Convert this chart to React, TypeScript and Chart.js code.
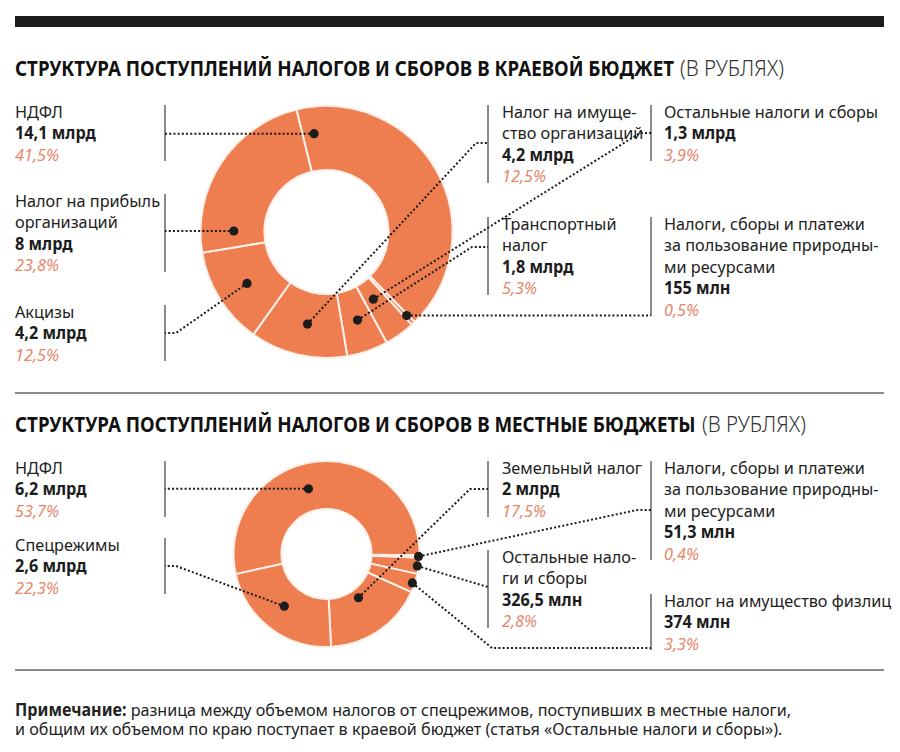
import React, { useEffect, useRef } from "react";
import { Chart, registerables } from "chart.js";
Chart.register(...registerables);

const FAMILY = '"Noto Sans", "Open Sans", sans-serif';
const ORANGE = "#EE7D50";
const SEAM = "#FDEFE7";
const PCT_COLOR = "#E8866A";
const INK = "#1C1C1C";
const RULE = "#8C8C8C";

// ---------- Regional budget (clockwise from НДФЛ) ----------
const regionCategories = [
  "НДФЛ",
  "Налоги, сборы и платежи за пользование природными ресурсами",
  "Остальные налоги и сборы",
  "Транспортный налог",
  "Налог на имущество организаций",
  "Акцизы",
  "Налог на прибыль организаций",
];
const regionShares = [41.5, 0.5, 3.9, 5.3, 12.5, 12.5, 23.8];
const regionAmounts = ["14,1 млрд", "155 млн", "1,3 млрд", "1,8 млрд", "4,2 млрд", "4,2 млрд", "8 млрд"];
const regionPercentLabels = ["41,5%", "0,5%", "3,9%", "5,3%", "12,5%", "12,5%", "23,8%"];

// ---------- Local budgets (clockwise from НДФЛ) ----------
const localCategories = [
  "НДФЛ",
  "Налоги, сборы и платежи за пользование природными ресурсами",
  "Остальные налоги и сборы",
  "Налог на имущество физлиц",
  "Земельный налог",
  "Спецрежимы",
];
const localShares = [53.7, 0.4, 2.8, 3.3, 17.5, 22.3];
const localAmounts = ["6,2 млрд", "51,3 млн", "326,5 млн", "374 млн", "2 млрд", "2,6 млрд"];
const localPercentLabels = ["53,7%", "0,4%", "2,8%", "3,3%", "17,5%", "22,3%"];

const TITLE_REGION = "СТРУКТУРА ПОСТУПЛЕНИЙ НАЛОГОВ И СБОРОВ В КРАЕВОЙ БЮДЖЕТ";
const TITLE_LOCAL = "СТРУКТУРА ПОСТУПЛЕНИЙ НАЛОГОВ И СБОРОВ В МЕСТНЫЕ БЮДЖЕТЫ";
const TITLE_UNIT = "(В РУБЛЯХ)";
const NOTE_HEAD = "Примечание:";
const NOTE_LINE1 = " разница между объемом налогов от спецрежимов, поступивших в местные налоги,";
const NOTE_LINE2 = "и общим их объемом по краю поступает в краевой бюджет (статья «Остальные налоги и сборы»).";

// ---------- layout (positions only) ----------
type Lbl = {
  i: number;
  x: number;
  b1: number;
  lines: string[];
  bar: number;
  t: number;
  r: number;
  route: number[][] | null;
};

const regionLayout: Lbl[] = [
  { i: 0, x: 15, b1: 118, lines: ["НДФЛ"], bar: 165, t: 0.044, r: 0.58, route: null },
  { i: 6, x: 15, b1: 207, lines: ["Налог на прибыль", "организаций"], bar: 165, t: 0.118, r: 0.48, route: null },
  { i: 5, x: 15, b1: 318, lines: ["Акцизы"], bar: 165, t: 0.48, r: 0.51, route: [[176, 333], [165, 333]] },
  { i: 4, x: 502, b1: 118, lines: ["Налог на имуще-", "ство организаций"], bar: 488, t: 0.47, r: 0.5, route: [[476, 143], [488, 143]] },
  { i: 3, x: 502, b1: 230, lines: ["Транспортный", "налог"], bar: 488, t: 0.48, r: 0.49, route: [[472, 247], [488, 247]] },
  { i: 2, x: 664, b1: 118, lines: ["Остальные налоги и сборы"], bar: 651, t: 0.55, r: 0.31, route: [[640, 133], [651, 133]] },
  { i: 1, x: 664, b1: 230, lines: ["Налоги, сборы и платежи", "за пользование природны-", "ми ресурсами"], bar: 651, t: 0.33, r: 0.84, route: null },
];

const localLayout: Lbl[] = [
  { i: 0, x: 15, b1: 474, lines: ["НДФЛ"], bar: 165, t: 0.45, r: 0.47, route: null },
  { i: 5, x: 15, b1: 551, lines: ["Спецрежимы"], bar: 165, t: 0.52, r: 0.46, route: [[176, 566], [165, 566]] },
  { i: 4, x: 502, b1: 474, lines: ["Земельный налог"], bar: 488, t: 0.47, r: 0.19, route: [[470, 489], [488, 489]] },
  { i: 2, x: 502, b1: 563, lines: ["Остальные нало-", "ги и сборы"], bar: 488, t: 0.52, r: 0.97, route: [[488, 587]] },
  { i: 1, x: 664, b1: 474, lines: ["Налоги, сборы и платежи", "за пользование природны-", "ми ресурсами"], bar: 651, t: 0.5, r: 0.98, route: [[637, 510], [651, 510]] },
  { i: 3, x: 664, b1: 607, lines: ["Налог на имущество физлиц"], bar: 651, t: 0.53, r: 0.95, route: [[492, 648], [651, 648]] },
];

const LABEL_FS = 17;
const LABEL_LH = 21.5;
const LABEL_SCALE = 0.955;

function measure(text: string, font: string): number {
  const c = document.createElement("canvas").getContext("2d")!;
  c.font = font;
  return c.measureText(text).width;
}

// baseline offset inside a line box for Noto Sans (ascent 1.069, descent 0.293)
function baseOff(fs: number, lh: number) {
  return lh / 2 + ((1.069 - 0.293) / 2) * fs;
}

function Donut(props: {
  top: number;
  height: number;
  cx: number;
  cy: number;
  radius: number;
  cutout: number;
  rotation: number;
  categories: string[];
  shares: number[];
  layout: Lbl[];
}) {
  const ref = useRef<HTMLCanvasElement>(null);
  useEffect(() => {
    const { top, height, cx, cy, radius, cutout, rotation, categories, shares, layout } = props;
    const W = 900;
    const lcy = cy - top;
    const padding = {
      left: cx - radius - 10,
      right: W - (cx + radius + 10),
      top: lcy - radius - 5,
      bottom: height - (lcy + radius + 5),
    };
    const leaders = {
      id: "leaders",
      afterDatasetsDraw(chart: any) {
        const ctx = chart.ctx as CanvasRenderingContext2D;
        const meta = chart.getDatasetMeta(0);
        const dots: number[][] = [];
        layout.forEach((l) => {
          const arc = meta.data[l.i];
          const p = arc.getProps(["x", "y", "startAngle", "endAngle", "innerRadius", "outerRadius"], true);
          const a = p.startAngle + l.t * (p.endAngle - p.startAngle);
          const r = p.innerRadius + l.r * (p.outerRadius - p.innerRadius);
          const dx = p.x + r * Math.cos(a);
          const dy = p.y + r * Math.sin(a);
          dots.push([dx, dy]);
          const pts = l.route === null ? [[l.bar, dy]] : l.route.map(([x, y]) => [x, y - top]);
          ctx.save();
          ctx.strokeStyle = INK;
          ctx.lineWidth = 2;
          ctx.setLineDash([2, 2.2]);
          ctx.beginPath();
          ctx.moveTo(dx, dy);
          pts.forEach(([x, y]) => ctx.lineTo(x, y));
          ctx.stroke();
          ctx.restore();
        });
        ctx.save();
        ctx.fillStyle = INK;
        dots.forEach(([x, y]) => {
          ctx.beginPath();
          ctx.arc(x, y, 4.6, 0, Math.PI * 2);
          ctx.fill();
        });
        ctx.restore();
      },
    };
    const chart = new Chart(ref.current!, {
      type: "doughnut",
      data: {
        labels: categories,
        datasets: [
          {
            data: shares,
            backgroundColor: ORANGE,
            borderColor: SEAM,
            borderWidth: 2,
            hoverOffset: 0,
            radius,
            cutout,
            rotation,
          } as any,
        ],
      },
      options: {
        animation: false,
        responsive: false,
        maintainAspectRatio: false,
        events: [],
        radius,
        cutout,
        rotation,
        layout: { padding },
        plugins: { legend: { display: false }, tooltip: { enabled: false } },
      } as any,
      plugins: [leaders],
    });
    return () => chart.destroy();
  }, []);
  return (
    <canvas
      ref={ref}
      width={900}
      height={props.height}
      style={{ position: "absolute", left: 0, top: props.top, width: 900, height: props.height }}
    />
  );
}

function LabelBlock({ l, amount, pct }: { l: Lbl; amount: string; pct: string }) {
  const n = l.lines.length + 2;
  const topY = l.b1 - baseOff(LABEL_FS, LABEL_LH);
  const barTop = l.b1 - 13;
  const barBottom = l.b1 + (n - 1) * LABEL_LH;
  return (
    <>
      <div
        style={{
          position: "absolute",
          left: l.bar - 0.75,
          top: barTop,
          width: 1.5,
          height: barBottom - barTop,
          background: "#8A8A8A",
        }}
      />
      <div
        style={{
          position: "absolute",
          left: l.x,
          top: topY,
          fontFamily: FAMILY,
          fontSize: LABEL_FS,
          lineHeight: LABEL_LH + "px",
          color: "#222",
          whiteSpace: "nowrap",
          transform: `scaleX(${LABEL_SCALE})`,
          transformOrigin: "0 0",
        }}
      >
        {l.lines.map((s, k) => (
          <div key={k}>{s}</div>
        ))}
        <div style={{ fontWeight: 700, color: INK }}>{amount}</div>
        <div style={{ fontStyle: "italic", color: PCT_COLOR }}>{pct}</div>
      </div>
    </>
  );
}

function Title({ baseline, bold, scale, unitScale }: { baseline: number; bold: string; scale: number; unitScale: number }) {
  const fs = 21;
  const boldW = measure(bold, `bold ${fs}px ${FAMILY}`) * scale;
  const top = baseline - baseOff(fs, fs);
  const common: React.CSSProperties = {
    position: "absolute",
    top,
    fontFamily: FAMILY,
    fontSize: fs,
    lineHeight: fs + "px",
    whiteSpace: "nowrap",
    transformOrigin: "0 0",
  };
  return (
    <>
      <div style={{ ...common, left: 15, fontWeight: 700, color: "#111", transform: `scaleX(${scale})` }}>{bold}</div>
      <div style={{ ...common, left: 15 + boldW + 6, fontWeight: 300, color: "#333", transform: `scaleX(${unitScale})` }}>
        {TITLE_UNIT}
      </div>
    </>
  );
}

export default function App() {
  const titleScale = 659 / measure(TITLE_REGION, `bold 21px ${FAMILY}`);
  const unitScale = 104 / measure(TITLE_UNIT, `300 21px ${FAMILY}`);
  const noteFs = 17;
  const noteW =
    measure(NOTE_HEAD, `bold ${noteFs}px ${FAMILY}`) + measure(NOTE_LINE1, `${noteFs}px ${FAMILY}`);
  const noteScale = 776 / noteW;
  const noteLH = 18.3;
  const noteTop = 717 - baseOff(noteFs, noteLH);

  return (
    <div
      style={{
        position: "absolute",
        left: 0,
        top: 0,
        width: 900,
        height: 752,
        background: "#fff",
        overflow: "hidden",
        fontFamily: FAMILY,
      }}
    >
      <div style={{ position: "absolute", left: 15, top: 16, width: 869, height: 11, background: "#1C1C1C" }} />
      <Title baseline={77} bold={TITLE_REGION} scale={titleScale} unitScale={unitScale} />

      {regionLayout.map((l) => (
        <LabelBlock key={"r" + l.i} l={l} amount={regionAmounts[l.i]} pct={regionPercentLabels[l.i]} />
      ))}
      <Donut
        top={95}
        height={290}
        cx={326.5}
        cy={232}
        radius={126}
        cutout={64}
        rotation={-13.8}
        categories={regionCategories}
        shares={regionShares}
        layout={regionLayout}
      />

      <div style={{ position: "absolute", left: 15, top: 392, width: 869, height: 2, background: RULE }} />
      <Title baseline={433} bold={TITLE_LOCAL} scale={titleScale} unitScale={unitScale} />

      {localLayout.map((l) => (
        <LabelBlock key={"l" + l.i} l={l} amount={localAmounts[l.i]} pct={localPercentLabels[l.i]} />
      ))}
      <Donut
        top={450}
        height={210}
        cx={326.5}
        cy={554}
        radius={93}
        cutout={47}
        rotation={257.5}
        categories={localCategories}
        shares={localShares}
        layout={localLayout}
      />

      <div style={{ position: "absolute", left: 15, top: 669, width: 869, height: 2, background: RULE }} />
      <div
        style={{
          position: "absolute",
          left: 15,
          top: noteTop,
          fontFamily: FAMILY,
          fontSize: noteFs,
          lineHeight: noteLH + "px",
          color: "#222",
          whiteSpace: "nowrap",
          transform: `scaleX(${noteScale})`,
          transformOrigin: "0 0",
        }}
      >
        <div>
          <span style={{ fontWeight: 700 }}>{NOTE_HEAD}</span>
          {NOTE_LINE1}
        </div>
        <div>{NOTE_LINE2}</div>
      </div>
    </div>
  );
}
